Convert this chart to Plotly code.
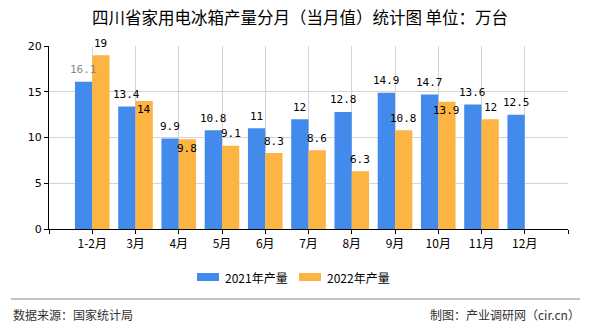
import plotly.graph_objects as go

months = ["1-2月", "3月", "4月", "5月", "6月", "7月", "8月", "9月", "10月", "11月", "12月"]
prod_2021 = [16.1, 13.4, 9.9, 10.8, 11, 12, 12.8, 14.9, 14.7, 13.6, 12.5]
prod_2022 = [19, 14, 9.8, 9.1, 8.3, 8.6, 6.3, 10.8, 13.9, 12, None]
name_2021 = "2021年产量"
name_2022 = "2022年产量"
y_ticks = [0, 5, 10, 15, 20]

# label style: which labels sit inside bar top (overlap avoidance in original)
inside_2022 = [False, True, True, False, False, False, False, False, True, False, False]
grey_2021 = [True] + [False] * 10

BLUE = "#428bec"
ORANGE = "#fcb443"
W, H = 590, 330
L, R, T, B = 49, 22, 46, 101
PW, PH = W - L - R, H - T - B


def px(x):
    return (x - L) / PW


def py(y):
    return (H - B - y) / PH


idx = list(range(len(months)))
fig = go.Figure()
fig.add_trace(go.Bar(x=idx, y=prod_2021, name=name_2021, marker_color=BLUE, marker_line_width=0))
fig.add_trace(go.Bar(x=idx, y=prod_2022, name=name_2022, marker_color=ORANGE, marker_line_width=0))

bargap = 0.2
off = (1 - bargap) / 4
label_font = dict(family="DejaVu Sans Mono, Liberation Mono, monospace", size=11, color="#000")
ann = []
for i, v in enumerate(prod_2021):
    if v is None:
        continue
    f = dict(label_font)
    if grey_2021[i]:
        f["color"] = "#888888"
    ann.append(dict(x=i - off, y=v, xref="x", yref="y", text=str(v), showarrow=False,
                    yanchor="middle", yshift=12, font=f))
for i, v in enumerate(prod_2022):
    if v is None:
        continue
    ann.append(dict(x=i + off, y=v, xref="x", yref="y", text=str(v), showarrow=False,
                    yanchor="middle", yshift=-9 if inside_2022[i] else 12, font=label_font))

# custom legend
leg_font = dict(family="Noto Sans CJK SC, sans-serif", size=12, color="#000")
shapes = []
for (x0, x1, col, tx, name) in [(197, 219, BLUE, 223, name_2021), (299, 321, ORANGE, 325, name_2022)]:
    shapes.append(dict(type="rect", xref="paper", yref="paper", x0=px(x0), x1=px(x1),
                       y0=py(281), y1=py(273), fillcolor=col, line_width=0))
    ann.append(dict(x=px(tx), y=py(277), xref="paper", yref="paper", text=name, showarrow=False,
                    xanchor="left", yanchor="middle", font=leg_font))

# footer line and texts
shapes.append(dict(type="line", xref="paper", yref="paper", x0=px(11), x1=px(580),
                   y0=py(299), y1=py(299), line=dict(color="#888888", width=1)))
foot_font = dict(family="Noto Sans CJK SC, sans-serif", size=12, color="#333")
ann.append(dict(x=px(11), y=py(314), xref="paper", yref="paper", text="数据来源：国家统计局",
                showarrow=False, xanchor="left", yanchor="middle", font=foot_font))
ann.append(dict(x=px(582), y=py(314), xref="paper", yref="paper", text="制图：产业调研网（cir.cn）",
                showarrow=False, xanchor="right", yanchor="middle", font=foot_font))

fig.update_layout(
    width=W, height=H,
    margin=dict(l=L, r=R, t=T, b=B),
    paper_bgcolor="white", plot_bgcolor="white",
    barmode="group", bargap=bargap, bargroupgap=0,
    showlegend=False,
    title=dict(text="四川省家用电冰箱产量分月（当月值）统计图 单位：万台",
               x=300 / W, xanchor="center", y=1 - 18 / H, yanchor="middle", yref="container",
               font=dict(family="Noto Sans CJK SC, sans-serif", size=16.5, color="#000")),
    annotations=ann, shapes=shapes,
)
fig.update_xaxes(
    range=[-1, len(months)], tickmode="array",
    tickvals=list(range(-1, len(months) + 1)),
    ticktext=[""] + months + [""],
    showgrid=True, gridcolor="#d4d4d4", gridwidth=1,
    showline=True, linecolor="#000", linewidth=1,
    ticks="outside", ticklen=4, tickcolor="#000",
    zeroline=False,
    tickfont=dict(family="Noto Sans CJK SC, sans-serif", size=12, color="#000"),
)
fig.update_yaxes(
    range=[0, 20], tickmode="array", tickvals=y_ticks,
    showgrid=True, gridcolor="#d4d4d4", gridwidth=1,
    showline=True, linecolor="#000", linewidth=1,
    ticks="outside", ticklen=4, tickcolor="#000",
    zeroline=False,
    tickfont=dict(family="DejaVu Sans, sans-serif", size=11, color="#000"),
)
fig.write_html("out.html")
